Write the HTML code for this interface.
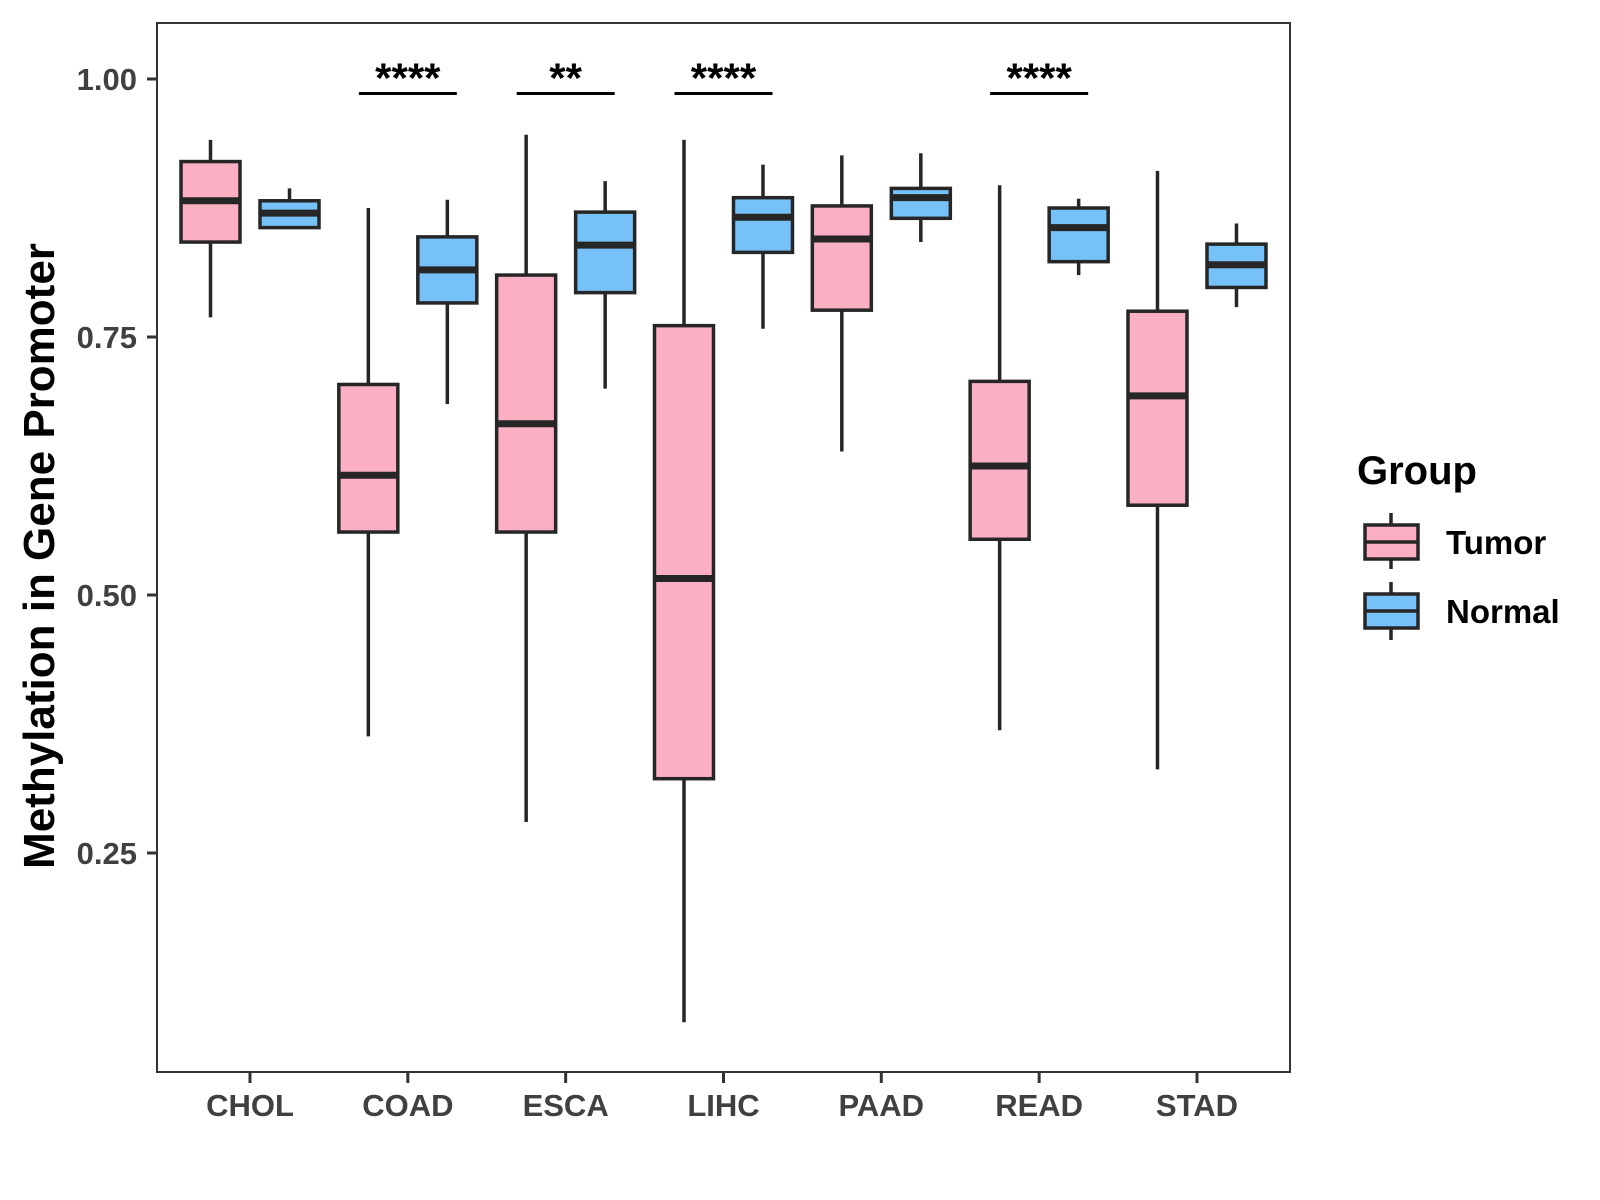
<!DOCTYPE html>
<html><head><meta charset="utf-8"><style>
html,body{margin:0;padding:0;background:#fff;}
svg{display:block;font-family:"Liberation Sans",Arial,sans-serif;}
</style></head><body>
<svg id="chart" width="1600" height="1200" viewBox="0 0 1600 1200">
<rect x="157" y="23" width="1133" height="1049" fill="#fff" stroke="#333" stroke-width="2"/>
<g id="marks"></g>
<text x="0" y="0" transform="translate(54,556) rotate(-90)" text-anchor="middle" font-size="44" font-weight="bold" fill="#000">Methylation in Gene Promoter</text>
<g>
<text x="1357" y="484" font-size="40" font-weight="bold" fill="#000">Group</text>
<g>
<line x1="1391" y1="513" x2="1391" y2="569" stroke="#262626" stroke-width="3.5"/>
<rect x="1365" y="525" width="53" height="34" fill="#FBAFC3" stroke="#262626" stroke-width="3.5"/>
<line x1="1365" y1="542" x2="1418" y2="542" stroke="#262626" stroke-width="3.5"/>
<text x="1446" y="554" font-size="33" font-weight="bold" fill="#000">Tumor</text>
</g>
<g>
<line x1="1391" y1="582" x2="1391" y2="640" stroke="#262626" stroke-width="3.5"/>
<rect x="1365" y="594" width="53" height="34" fill="#76C1F7" stroke="#262626" stroke-width="3.5"/>
<line x1="1365" y1="611" x2="1418" y2="611" stroke="#262626" stroke-width="3.5"/>
<text x="1446" y="623" font-size="33" font-weight="bold" fill="#000">Normal</text>
</g>
</g>
</svg>
<script>
const categories = ["CHOL","COAD","ESCA","LIHC","PAAD","READ","STAD"];
// [whiskerLow, Q1, median, Q3, whiskerHigh]
const tumorStats = [
 [0.769,0.842,0.882,0.920,0.941],
 [0.363,0.561,0.616,0.704,0.875],
 [0.280,0.561,0.666,0.810,0.946],
 [0.086,0.322,0.516,0.761,0.941],
 [0.639,0.776,0.845,0.877,0.926],
 [0.369,0.554,0.625,0.707,0.897],
 [0.331,0.587,0.693,0.775,0.911]
];
const normalStats = [
 [0.856,0.856,0.870,0.882,0.894],
 [0.685,0.783,0.815,0.847,0.883],
 [0.700,0.793,0.839,0.871,0.901],
 [0.758,0.832,0.866,0.885,0.917],
 [0.842,0.865,0.885,0.894,0.928],
 [0.810,0.823,0.856,0.875,0.884],
 [0.779,0.798,0.820,0.840,0.860]
];
const yTicks = [0.25,0.50,0.75,1.00];
const yTickLabels = ["0.25","0.50","0.75","1.00"];
const sigCategories = ["COAD","ESCA","LIHC","READ"];
const sigLabels = ["****","**","****","****"];
const sigLevel = 0.986;

const NS="http://www.w3.org/2000/svg";
const g=document.getElementById('marks');
function y(v){return 79+(1-v)*1032;}
function x(i){return 250+i*157.83;}
function mk(t,a,p){const e=document.createElementNS(NS,t);for(const k in a)e.setAttribute(k,a[k]);(p||g).appendChild(e);return e;}
const C="#262626";
yTicks.forEach((t,i)=>{
 const tk=mk('line',{x1:147,x2:157,y1:y(t),y2:y(t),stroke:"#333","stroke-width":3});
 
 
 const tl=mk('text',{x:137,y:y(t)+11,"text-anchor":"end","font-size":31,"font-weight":"bold",fill:"#404040"});
 tl.textContent=yTickLabels[i];
 
 
});
categories.forEach((c,i)=>{
 const tk=mk('line',{x1:x(i),x2:x(i),y1:1072,y2:1083,stroke:"#333","stroke-width":3});
 
 
 const tl=mk('text',{x:x(i),y:1116,"text-anchor":"middle","font-size":31,"font-weight":"bold",fill:"#404040"});
 tl.textContent=c;
 
 
});
function box(cx,s,fill,name){
 const grp=mk('g',{});
 
 
 mk('line',{x1:cx,x2:cx,y1:y(s[4]),y2:y(s[0]),stroke:C,"stroke-width":3.5},grp);
 mk('rect',{x:cx-29.5,y:y(s[3]),width:59,height:Math.max(1,y(s[1])-y(s[3])),fill:fill,stroke:C,"stroke-width":3.5},grp);
 mk('line',{x1:cx-29.5,x2:cx+29.5,y1:y(s[2]),y2:y(s[2]),stroke:C,"stroke-width":7},grp);
}
categories.forEach((c,i)=>{
 box(x(i)-39.5,tumorStats[i],"#FBAFC3","box-tumor-"+c.toLowerCase());
 box(x(i)+39.5,normalStats[i],"#76C1F7","box-normal-"+c.toLowerCase());
});
sigCategories.forEach((c,j)=>{
 const i=categories.indexOf(c);
 const l=mk('line',{x1:x(i)-49,x2:x(i)+49,y1:y(sigLevel),y2:y(sigLevel),stroke:"#000","stroke-width":3});
 
 
 const t=mk('text',{x:x(i),y:y(sigLevel)-1,"text-anchor":"middle","font-size":42,"font-weight":"bold",fill:"#000"});
 t.textContent=sigLabels[j];
 
 
});
</script>
</body></html>
